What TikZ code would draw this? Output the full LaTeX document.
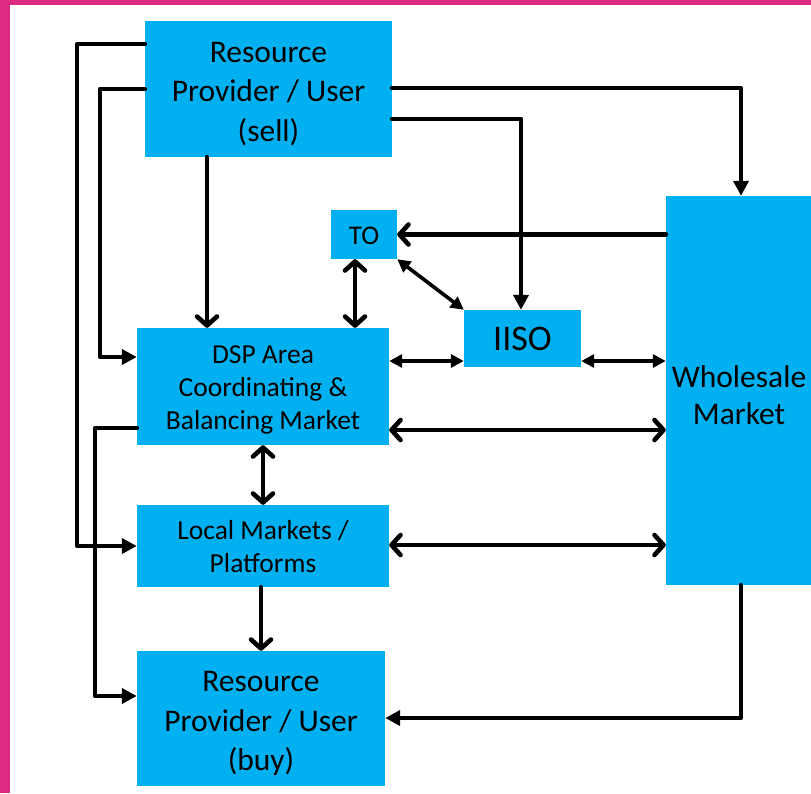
\documentclass[tikz,border=0pt]{standalone}
\usepackage{fontspec}
\setmainfont{Carlito}
\usetikzlibrary{arrows.meta,calc}
\definecolor{boxblue}{RGB}{0,176,240}
\definecolor{framepink}{RGB}{221,42,130}
\tikzset{
  blk/.style={rectangle, fill=boxblue, inner sep=0pt},
  caption/.style={align=center, text=black, inner sep=0pt},
  big/.style={font=\fontsize{31.5}{39.5}\selectfont},
  mid/.style={font=\fontsize{27.5}{33}\selectfont},
  wire/.style={line width=4.6pt, line join=round, line cap=round},
  tri/.style={wire, -{Triangle[length=15pt,width=15pt]}},
  tritri/.style={wire, line width=3.6pt, {Triangle[length=13pt,width=13pt]}-{Triangle[length=13pt,width=13pt]}},
  barb/.style={wire, -{Straight Barb[length=9pt,width=20pt,line cap=round,line join=round]}},
  barbbarb/.style={wire, {Straight Barb[length=9pt,width=20pt,line cap=round,line join=round]}-{Straight Barb[length=9pt,width=20pt,line cap=round,line join=round]}},
}
\begin{document}
\begin{tikzpicture}[x=1pt,y=-1pt]
  % page frame
  \useasboundingbox (0,0) rectangle (811,793);
  \fill[white] (0,0) rectangle (811,793);
  \fill[framepink] (0,0) rectangle (10,793);
  \fill[framepink] (0,0) rectangle (811,5);

  % blocks, each with its caption centred on it
  \node[blk, minimum width=247pt, minimum height=136pt,
    label={[caption, big, yshift=-5pt]center:Resource\\Provider / User\\(sell)}]
    (sell) at (268.5,89) {};
  \node[blk, minimum width=66pt, minimum height=49pt,
    label={[caption, font=\fontsize{27}{30}\selectfont, yshift=-1.5pt]center:TO}]
    (to) at (364,234.5) {};
  \node[blk, minimum width=117pt, minimum height=57pt,
    label={[caption, font=\fontsize{36}{40}\selectfont]center:IISO}]
    (iiso) at (522.5,338.5) {};
  \node[blk, minimum width=252pt, minimum height=117pt,
    label={[caption, mid, yshift=-3pt]center:DSP Area\\Coordinating \&\\Balancing Market}]
    (dsp) at (263,386.5) {};
  \node[blk, minimum width=146pt, minimum height=389pt,
    label={[caption, font=\fontsize{31.5}{37}\selectfont, yshift=-4.5pt]center:Wholesale\\Market}]
    (wh) at (739,390.5) {};
  \node[blk, minimum width=252pt, minimum height=82pt,
    label={[caption, mid, yshift=-1pt]center:Local Markets /\\Platforms}]
    (local) at (263,546) {};
  \node[blk, minimum width=248pt, minimum height=135pt,
    label={[caption, big, yshift=-5pt]center:Resource\\Provider / User\\(buy)}]
    (buy) at (261,718.5) {};

  % routing points
  \coordinate (l1) at (77,44);
  \coordinate (l2) at (100,89);
  \coordinate (l3) at (95,428);
  \coordinate (r1) at (741,88);
  \coordinate (r2) at (521,119);
  \coordinate (v1) at (207,150);
  \coordinate (v2) at (355,250);
  \coordinate (h1) at (400,361);
  \coordinate (h2) at (400,430);
  \coordinate (h3) at (400,545);
  \coordinate (b1) at (741,718);

  % supply side feeds
  \draw[tri] (sell.west |- l1) -- (l1) -- (l1 |- local.west) -- (local.west);
  \draw[tri] (sell.west |- l2) -- (l2) -- (l2 |- 0,357) -- (dsp.west |- 0,357);
  \draw[barb] (sell.south -| v1) -- (dsp.north -| v1);
  \draw[tri] (sell.east |- r1) -- (r1) -- (wh.north -| r1);
  \draw[tri] (sell.east |- r2) -- (r2) -- (iiso.north -| r2);

  % transmission and system operator links
  \draw[barb] (wh.west |- to.east) -- (to.east);
  \draw[barbbarb] (to.south -| v2) -- (dsp.north -| v2);
  \draw[tritri] (to.south east) -- (iiso.north west);
  \draw[tritri] (dsp.east |- h1) -- (iiso.west |- h1);
  \draw[tritri] (iiso.east |- h1) -- (wh.west |- h1);

  % market links
  \draw[barbbarb] (dsp.east |- h2) -- (wh.west |- h2);
  \draw[barbbarb] (local.east |- h3) -- (wh.west |- h3);
  \draw[barbbarb] (dsp.south) -- (local.north);

  % demand side deliveries
  \draw[barb] (local.south -| buy.north) -- (buy.north);
  \draw[tri] (dsp.west |- l3) -- (l3) -- (l3 |- 0,696) -- (buy.west |- 0,696);
  \draw[tri] (wh.south -| b1) -- (b1) -- (buy.east |- b1);
\end{tikzpicture}
\end{document}
